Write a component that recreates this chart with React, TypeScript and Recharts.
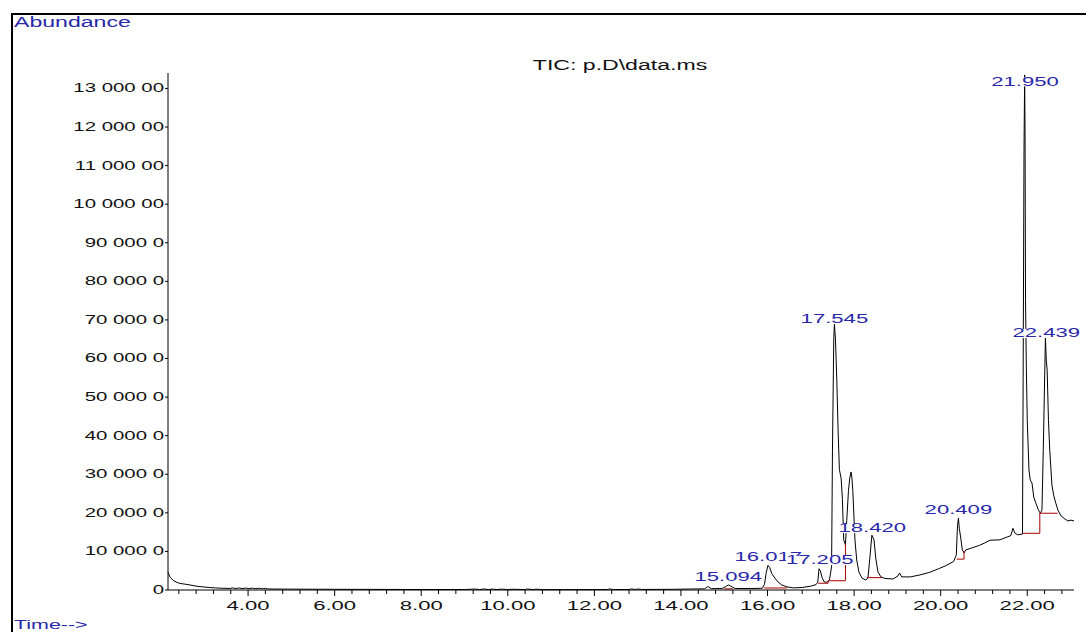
import { ComposedChart, Line, Scatter, XAxis, YAxis } from "recharts";

// retention time (min) and abundance of the TIC trace
const times = [
  2.15, 2.2, 2.27, 2.35, 2.43, 2.55, 2.66, 2.8, 2.96, 3.1, 3.24, 3.4, 3.58, 3.65, 3.7, 3.8, 3.86, 3.95,
  4.02, 4.1, 4.18, 4.26, 4.33, 4.4, 4.45, 4.6, 5.0, 6.0, 7.0, 8.0, 9.0, 9.25, 9.35, 9.45, 9.55, 9.65,
  9.75, 9.85, 10.0, 10.1, 10.4, 10.45, 10.6, 10.65, 10.8, 11.3, 12.0, 12.3, 12.35, 12.45, 12.8, 12.85,
  12.95, 13.0, 13.1, 13.8, 14.2, 14.55, 14.62, 14.7, 14.95, 15.05, 15.1, 15.18, 15.25, 15.6, 15.88,
  15.93, 15.97, 16.01, 16.05, 16.1, 16.17, 16.24, 16.33, 16.45, 16.6, 16.8, 17.0, 17.12, 17.16, 17.19,
  17.22, 17.26, 17.31, 17.37, 17.43, 17.48, 17.5, 17.53, 17.545, 17.57, 17.6, 17.63, 17.66, 17.7,
  17.73, 17.76, 17.8, 17.83, 17.87, 17.9, 17.93, 17.95, 17.97, 18.02, 18.06, 18.11, 18.18, 18.27,
  18.32, 18.36, 18.41, 18.46, 18.5, 18.55, 18.62, 18.71, 18.9, 19.01, 19.05, 19.1, 19.3, 19.52, 19.75,
  19.95, 20.1, 20.3, 20.36, 20.39, 20.41, 20.43, 20.47, 20.5, 20.54, 20.58, 20.72, 20.9, 21.02, 21.14,
  21.37, 21.55, 21.62, 21.67, 21.71, 21.78, 21.89, 21.905, 21.925, 21.94, 21.95, 21.96, 21.98, 22.0,
  22.04, 22.07, 22.11, 22.15, 22.2, 22.26, 22.3, 22.34, 22.37, 22.42, 22.44, 22.46, 22.49, 22.52,
  22.57, 22.61, 22.66, 22.71, 22.78, 22.87, 22.94, 23.01, 23.08,
];
const abundance = [
  46000, 33000, 25000, 20000, 17000, 15000, 13000, 10000, 8000, 6500, 5500, 4500, 4000, 5500, 3800,
  5200, 3700, 5000, 3500, 4800, 3300, 4600, 3100, 4200, 2800, 2500, 2200, 1800, 1500, 1300, 1200, 2500,
  1200, 2600, 1200, 2400, 1100, 2300, 1100, 2000, 1100, 2500, 1000, 2200, 1000, 1000, 1100, 1200, 2600,
  1200, 1300, 2800, 1300, 2600, 1400, 1800, 2500, 3000, 9000, 3500, 4000, 10000, 13000, 8000, 4000,
  3800, 4500, 15000, 45000, 64000, 58000, 42000, 31000, 21000, 13000, 8000, 5500, 6500, 10000, 14000,
  20000, 55000, 50000, 32000, 21000, 20000, 26000, 60000, 360000, 650000, 690000, 648000, 545000,
  415000, 312000, 290000, 235000, 130000, 117000, 180000, 258000, 290000, 306000, 290000, 258000,
  130000, 78000, 47000, 31000, 26000, 31000, 78000, 142000, 130000, 83000, 47000, 34000, 30000, 28500,
  36000, 44000, 34000, 34000, 39000, 46000, 55000, 62000, 74000, 90000, 168000, 186000, 160000,
  130000, 104000, 96000, 104000, 109000, 116000, 122000, 129000, 130000, 138000, 141000, 160000,
  148000, 143000, 145000, 540000, 1140000, 1335000, 1166000, 750000, 570000, 440000, 311000, 285000,
  277000, 241000, 225000, 207000, 199000, 207000, 362000, 655000, 596000, 570000, 440000, 362000,
  272000, 246000, 225000, 207000, 192000, 184000, 179000, 181000, 179000,
];

// integrated peaks: label, retention time, abundance where the label sits
const peakNames = ["15.094", "16.017", "17.205", "17.545", "18.420", "20.409", "21.950", "22.439"];
const peakTimes = [15.094, 16.017, 17.205, 17.545, 18.42, 20.409, 21.95, 22.439];
const peakLabelLevels = [35000, 85500, 77700, 702000, 160600, 207000, 1318000, 666000];

// integration baselines drawn in red
const redBaselines: [number, number][][] = [
  [[15.0, 3000], [15.2, 3000]],
  [[15.92, 5200], [16.45, 5200]],
  [[17.17, 17500], [17.4, 17500], [17.4, 24000], [17.8, 24000], [17.8, 121000]],
  [[18.3, 32000], [18.64, 32000]],
  [[20.37, 80000], [20.54, 80000], [20.54, 101000]],
  [[21.89, 147000], [22.29, 147000], [22.29, 199000], [22.7, 199000]],
];

const xTicks = [
  2.4, 2.8, 3.2, 3.6, 4.0, 4.4, 4.8, 5.2, 5.6, 6.0, 6.4, 6.8, 7.2, 7.6, 8.0, 8.4, 8.8, 9.2, 9.6, 10.0,
  10.4, 10.8, 11.2, 11.6, 12.0, 12.4, 12.8, 13.2, 13.6, 14.0, 14.4, 14.8, 15.2, 15.6, 16.0, 16.4, 16.8,
  17.2, 17.6, 18.0, 18.4, 18.8, 19.2, 19.6, 20.0, 20.4, 20.8, 21.2, 21.6, 22.0, 22.4, 22.8,
];
const xMajorTicks = [4, 6, 8, 10, 12, 14, 16, 18, 20, 22];
const xMajorLabels = ["4.00", "6.00", "8.00", "10.00", "12.00", "14.00", "16.00", "18.00", "20.00", "22.00"];

const yTicks = [0, 100000, 200000, 300000, 400000, 500000, 600000, 700000, 800000, 900000, 1000000, 1100000, 1200000, 1300000];
const yTickLabels = [
  "0", "10 000 0", "20 000 0", "30 000 0", "40 000 0", "50 000 0", "60 000 0", "70 000 0",
  "80 000 0", "90 000 0", "10 000 00", "11 000 00", "12 000 00", "13 000 00",
];

const traceData = times.map((t, i) => ({ t, v: abundance[i] }));
const peakData = peakTimes.map((t, i) => ({ t, v: peakLabelLevels[i], name: peakNames[i] }));
const baselineData = redBaselines.map((seg) => seg.map(([t, v]) => ({ t, v })));

const FONT = "'Liberation Sans', Arial, sans-serif";
const BLUE = "#2828a8";
const STRETCH = 1.7;

function StretchText({ x, y, text, anchor = "start", fill = "#111", size = 13, sx = STRETCH }: any) {
  return (
    <g transform={`translate(${x},${y}) scale(${sx},1)`}>
      <text x={0} y={0} textAnchor={anchor} dominantBaseline="central" fontFamily={FONT} fontSize={size} fill={fill}>
        {text}
      </text>
    </g>
  );
}

const XTick = ({ x, y, payload }: any) => {
  const idx = xMajorTicks.findIndex((m) => Math.abs(m - payload.value) < 1e-6);
  const major = idx >= 0;
  return (
    <g>
      <line x1={x} x2={x} y1={y} y2={y + (major ? 6 : 4)} stroke="#000" />
      {major && <StretchText x={x} y={y + 16} text={xMajorLabels[idx]} anchor="middle" />}
    </g>
  );
};

const YTick = ({ x, y, payload }: any) => {
  const idx = yTicks.indexOf(payload.value);
  return (
    <g>
      <line x1={x - 3} x2={x} y1={y} y2={y} stroke="#000" />
      <StretchText x={x - 4} y={y} text={yTickLabels[idx]} anchor="end" size={12} />
    </g>
  );
};

const PeakLabel = ({ cx, cy, payload }: any) => {
  const name: string = payload.name;
  const w = [...name].reduce((s, c) => s + (c === "." ? 3.6 : 7.23), 0) * STRETCH;
  return (
    <g>
      <rect x={cx - w / 2} y={cy - 4} width={w} height={9} fill="#fff" />
      <StretchText x={cx} y={cy} text={name} anchor="middle" fill={BLUE} />
    </g>
  );
};

export default function App() {
  return (
    <div style={{ position: "absolute", left: 0, top: 0, width: 1086, height: 632, background: "#fff", overflow: "hidden" }}>
      <ComposedChart width={1086} height={632} margin={{ top: 73, right: 12, bottom: 12, left: 108 }}>
        <XAxis
          dataKey="t"
          type="number"
          domain={[2.15, 23.08]}
          ticks={xTicks}
          interval={0}
          height={30}
          tickSize={0}
          tickMargin={0}
          tickLine={false}
          axisLine={{ stroke: "#000" }}
          tick={<XTick />}
        />
        <YAxis
          type="number"
          domain={[0, 1340000]}
          ticks={yTicks}
          interval={0}
          width={60}
          tickSize={0}
          tickMargin={0}
          tickLine={false}
          axisLine={{ stroke: "#000" }}
          tick={<YTick />}
        />
        <Line
          data={traceData}
          dataKey="v"
          type="linear"
          stroke="#000"
          strokeWidth={1}
          dot={false}
          isAnimationActive={false}
        />
        {baselineData.map((seg, i) => (
          <Line
            key={i}
            data={seg}
            dataKey="v"
            type="linear"
            stroke="#a80000"
            strokeWidth={1}
            dot={false}
            isAnimationActive={false}
          />
        ))}
        <Scatter data={peakData} dataKey="v" shape={<PeakLabel />} isAnimationActive={false} />
      </ComposedChart>
      <svg width={1086} height={632} style={{ position: "absolute", left: 0, top: 0, pointerEvents: "none" }}>
        <rect x={11} y={13} width={1075} height={2} fill="#000" />
        <rect x={11} y={13} width={2} height={619} fill="#000" />
        <StretchText x={14} y={22} text="Abundance" fill={BLUE} size={14} sx={1.65} />
        <StretchText x={14} y={625} text="Time-->" fill={BLUE} size={13} sx={1.65} />
        <StretchText x={620} y={65} text={"TIC: p.D\\data.ms"} anchor="middle" size={14} sx={1.65} />
      </svg>
    </div>
  );
}
